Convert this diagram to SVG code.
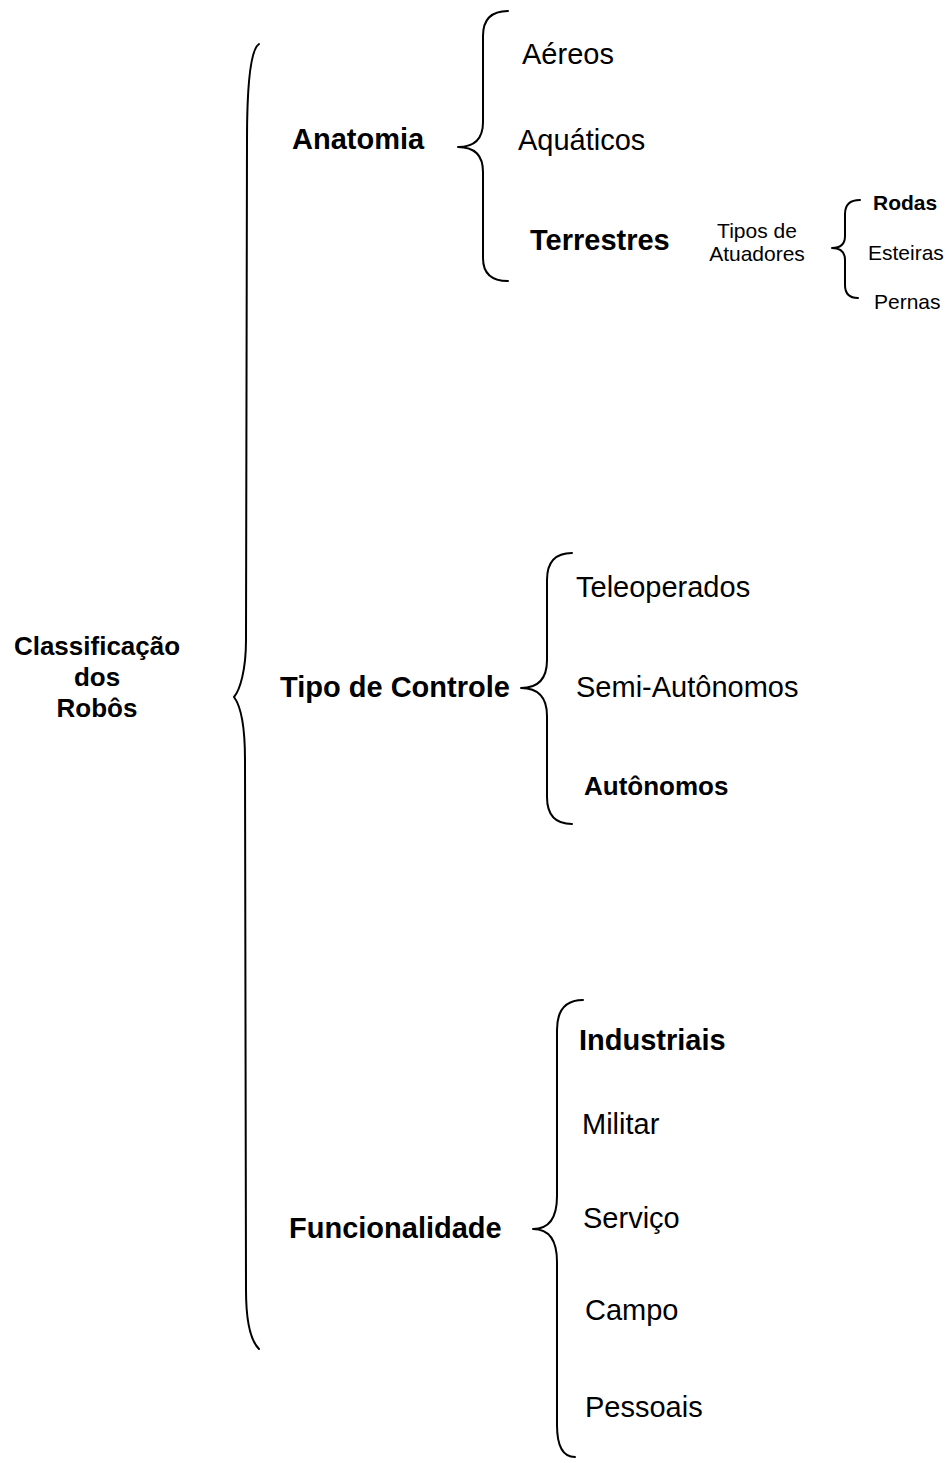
<svg xmlns="http://www.w3.org/2000/svg" width="949" height="1463" viewBox="0 0 949 1463">
  <style>
    text { font-family: "Liberation Sans", Arial, sans-serif; fill: #000; }
    .big { font-size: 29px; }
    .mid { font-size: 26px; }
    .small { font-size: 21px; }
    .b { font-weight: bold; }
    .c { text-anchor: middle; }
    .brace { fill: none; stroke: #000; stroke-width: 2; stroke-linecap: round; stroke-linejoin: round; }
  </style>
  <rect width="949" height="1463" fill="#fff"/>

  <!-- braces joining each category to its members -->
  <g id="connectors">
    <!-- root brace -->
    <path class="brace" d="M259,44 C250,50 247,85 247,140 L246,640 C246,670 240,690 234,697 C240,705 245,722 245,760 L246,1290 C246,1322 250,1340 259,1349"/>
    <!-- Anatomia -->
    <path class="brace" d="M508,11 Q483,11 483,36 L483,122 Q483,147 458,147 Q483,147 483,172 L483,258 Q483,281 508,281"/>
    <!-- Tipos de Atuadores -->
    <path class="brace" d="M860,200 Q845,200 845,214 L845,236 Q845,248 832,248 Q845,248 845,260 L845,285 Q845,298 858,298"/>
    <!-- Tipo de Controle -->
    <path class="brace" d="M572,553 Q547,553 547,580 L547,660 Q547,688 521,688 Q547,688 547,716 L547,797 Q547,824 572,824"/>
    <!-- Funcionalidade -->
    <path class="brace" d="M583,1000 Q557,1000 557,1030 L557,1196 Q557,1229 533,1229 Q557,1229 557,1262 L557,1425 Q557,1457 575,1457"/>
  </g>

  <g id="root">
    <text class="mid b c" x="97" y="655">Classificação</text>
    <text class="mid b c" x="97" y="686">dos</text>
    <text class="mid b c" x="97" y="717">Robôs</text>
  </g>

  <g id="anatomia"><text class="big b" x="292" y="149">Anatomia</text></g>
  <g id="aereos"><text class="big" x="522" y="64">Aéreos</text></g>
  <g id="aquaticos"><text class="big" x="518" y="150">Aquáticos</text></g>
  <g id="terrestres"><text class="big b" x="530" y="250">Terrestres</text></g>

  <g id="atuadores">
    <text class="small c" x="757" y="238">Tipos de</text>
    <text class="small c" x="757" y="261">Atuadores</text>
  </g>
  <g id="rodas"><text class="small b" x="873" y="210">Rodas</text></g>
  <g id="esteiras"><text class="small" x="868" y="260">Esteiras</text></g>
  <g id="pernas"><text class="small" x="874" y="309">Pernas</text></g>

  <g id="controle"><text class="big b" x="280" y="697">Tipo de Controle</text></g>
  <g id="teleoperados"><text class="big" x="576" y="597">Teleoperados</text></g>
  <g id="semi"><text class="big" x="576" y="697">Semi-Autônomos</text></g>
  <g id="autonomos"><text class="mid b" x="584" y="795">Autônomos</text></g>

  <g id="funcionalidade"><text class="big b" x="289" y="1238">Funcionalidade</text></g>
  <g id="industriais"><text class="big b" x="579" y="1050">Industriais</text></g>
  <g id="militar"><text class="big" x="582" y="1134">Militar</text></g>
  <g id="servico"><text class="big" x="583" y="1228">Serviço</text></g>
  <g id="campo"><text class="big" x="585" y="1320">Campo</text></g>
  <g id="pessoais"><text class="big" x="585" y="1417">Pessoais</text></g>
</svg>
